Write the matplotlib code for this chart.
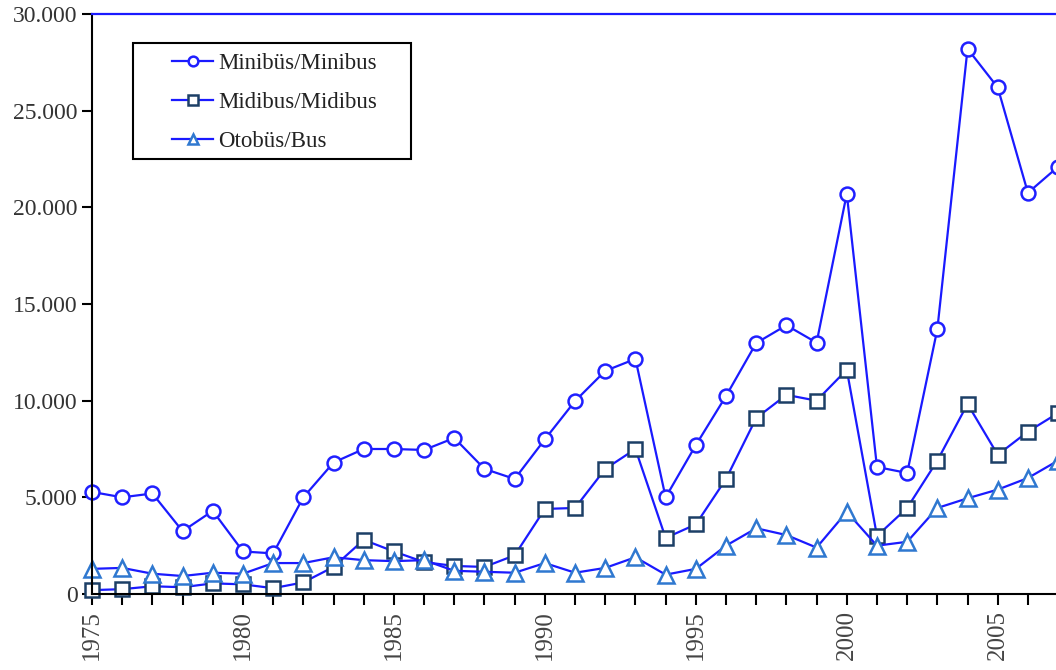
import matplotlib
matplotlib.use("Agg")
import matplotlib.pyplot as plt
from matplotlib.patches import Rectangle
from matplotlib.ticker import FuncFormatter, MultipleLocator

plt.rcParams['font.family'] = ['Liberation Serif', 'DejaVu Serif']

years = list(range(1975, 2008))

minibus = [5280, 5000, 5200, 3250, 4300, 2200, 2100, 5000, 6800, 7500,
           7500, 7450, 8070, 6470, 5950, 8000, 9980, 11540, 12160, 5000,
           7700, 10240, 12980, 13900, 13000, 20700, 6570, 6260, 13700, 28200,
           26200, 20750, 22100]
midibus = [200, 250, 400, 350, 550, 500, 300, 600, 1400, 2800,
           2200, 1650, 1450, 1400, 2000, 4400, 4450, 6470, 7500, 2900,
           3600, 5950, 9100, 10300, 10000, 11600, 3000, 4450, 6900, 9830,
           7200, 8400, 9360]
bus = [1300, 1350, 1050, 930, 1100, 1050, 1600, 1600, 1900, 1750,
       1700, 1750, 1200, 1150, 1100, 1600, 1100, 1350, 1900, 1000,
       1300, 2500, 3400, 3050, 2400, 4250, 2500, 2700, 4450, 4950,
       5400, 6000, 6900]

labels = ["Minibüs/Minibus", "Midibus/Midibus", "Otobüs/Bus"]

fig = plt.figure(figsize=(10.56, 6.70), dpi=100)
ax = fig.add_axes([92/1056, 76/670, 964/1056, 580/670])

line_col = "#1a1aff"
ax.plot(years, minibus, color=line_col, lw=1.6, marker="o", ms=10,
        mfc="white", mec="#2020ff", mew=1.8, label=labels[0], clip_on=False)
ax.plot(years, midibus, color=line_col, lw=1.6, marker="s", ms=10,
        mfc="white", mec="#1c3f66", mew=1.8, label=labels[1], clip_on=False)
ax.plot(years, bus, color=line_col, lw=1.6, marker="^", ms=11,
        mfc="white", mec="#2f78d0", mew=1.8, label=labels[2], clip_on=False)

ax.set_xlim(1975, 2006.93)
ax.set_ylim(0, 30000)
ax.yaxis.set_major_locator(MultipleLocator(5000))
ax.yaxis.set_major_formatter(FuncFormatter(lambda v, p: f"{int(v):,}".replace(",", ".")))
ax.xaxis.set_major_locator(MultipleLocator(5))
ax.xaxis.set_minor_locator(MultipleLocator(1))
ax.xaxis.set_major_formatter(FuncFormatter(lambda v, p: f"{int(v)}"))

for lab in ax.get_xticklabels():
    lab.set_rotation(90)
ax.tick_params(axis="x", which="both", direction="out", length=8, width=1.5,
               labelsize=18, labelcolor="#444444")
ax.tick_params(axis="y", direction="out", length=7, width=1.5,
               labelsize=17, labelcolor="#333333")

ax.spines["right"].set_visible(False)
ax.spines["top"].set_color("#1a1aff")
ax.spines["top"].set_linewidth(1.6)
ax.spines["left"].set_linewidth(1.5)
ax.spines["bottom"].set_linewidth(1.5)

# legend box drawn by hand, wider than the default padding
ax.add_patch(Rectangle((0.0425, 0.75), 0.2885, 0.2, transform=ax.transAxes,
                       fill=True, facecolor="white", edgecolor="black", lw=1.5,
                       zorder=4))
leg = ax.legend(loc="upper left", bbox_to_anchor=(0.083, 0.932), borderaxespad=0,
                frameon=False, fontsize=16.5, markerscale=0.7, handlelength=1.8,
                handletextpad=0.2, borderpad=0, labelspacing=0.78)
leg.set_zorder(5)
for t in leg.get_texts():
    t.set_color("#222222")

fig.savefig("out.png", dpi=100)
